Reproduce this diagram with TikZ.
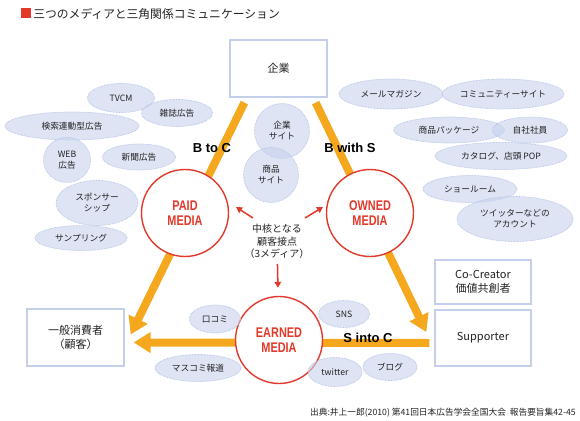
\documentclass[tikz,border=0pt]{standalone}
\usepackage{fontspec}
\setmainfont{Noto Sans CJK JP}
\newfontfamily\latinb{Liberation Sans Bold}
\newfontfamily\medfont[FakeStretch=0.78]{Liberation Sans Bold}
\usepackage{xcolor}
\usepackage{tikz}
\usetikzlibrary{arrows.meta}
\usetikzlibrary{calc}
\usetikzlibrary{positioning}
\usetikzlibrary{shapes.geometric}
\definecolor{feedorange}{RGB}{245,168,30}
\definecolor{mediared}{RGB}{226,57,42}
\definecolor{bubblefill}{RGB}{200,211,237}
\definecolor{bubbleline}{RGB}{180,195,230}
\definecolor{boxline}{RGB}{196,207,235}
\definecolor{inktext}{RGB}{35,35,35}

\begin{document}
\begin{tikzpicture}[x=1pt,y=-1pt,>=Triangle,semithick]
	\tikzstyle{every node}=[inner sep=0pt, text=inktext]
	\tikzstyle{bubble}=[ellipse, fill=bubblefill, fill opacity=0.6, text opacity=1, draw=bubbleline, line width=0.7pt, dash pattern=on 0.7pt off 0.8pt, font=\fontsize{8.7}{11}\selectfont, align=center]
	\tikzstyle{party}=[rectangle, draw=boxline, line width=1.3pt, fill=white, font=\fontsize{11}{14}\selectfont, align=center]
	\tikzstyle{media}=[circle, draw=mediared, line width=1.4pt, fill=white, minimum size=87pt, text=mediared, font=\medfont\fontsize{14}{15}\selectfont, align=center]
	\tikzstyle{feed}=[draw=feedorange, line width=8pt, -{Triangle[length=17pt,width=20pt]}]
	\tikzstyle{pointer}=[draw=mediared, line width=1.5pt, -{Triangle[length=6pt,width=6.5pt]}]
	\tikzstyle{flow}=[font=\latinb\fontsize{13}{13}\selectfont, text=black]

	\path[use as bounding box, fill=white] (0,0) rectangle (580,420);

	% title
	\node[fill=mediared, minimum size=10pt] (Mark) at (26,13.5) {};
	\node[anchor=west, font=\fontsize{11.8}{12}\selectfont] (Title) at (33,13.5) {三つのメディアと三角関係コミュニケーション};

	% parties
	\node[party, minimum width=97pt, minimum height=57pt] (Firm) at (278.5,68.5) {企業};
	\node[party, minimum width=97pt, minimum height=57pt] (Cons) at (75.5,337.5) {一般消費者\\（顧客）};
	\node[party, minimum width=96pt, minimum height=44pt] (CoC) at (483,282) {Co-Creator\\価値共創者};
	\node[party, minimum width=96pt, minimum height=56pt] (Sup) at (483,338) {Supporter};

	% the three flows
	\draw[feed] ($(Firm.south west)+(15,5)$) -- ($(Cons.east)+(6,-3)$);
	\draw[feed] ($(Firm.south east)+(-12,5)$) -- ($(Sup.west)+(-8,-6)$);
	\draw[feed] ($(Sup.west)+(-5,5)$) -- ($(Cons.east)+(9,5)$);

	% media
	\node[media] (Paid) at (185,213) {PAID\\MEDIA};
	\node[media] (Owned) at (370,213) {OWNED\\MEDIA};
	\node[media] (Earned) at (279,340) {EARNED\\MEDIA};

	% paid media
	\node[bubble, minimum width=67pt, minimum height=29pt] (Tvcm) at (121,98) {TVCM};
	\node[bubble, minimum width=71pt, minimum height=27pt] (Zasshi) at (177,113) {雑誌広告};
	\node[bubble, minimum width=134pt, minimum height=28pt] (Kensaku) at (72,126) {検索連動型広告};
	\node[bubble, minimum width=47pt, minimum height=45pt] (Web) at (67,160) {WEB\\広告};
	\node[bubble, minimum width=73pt, minimum height=26pt] (Shinbun) at (139,157) {新聞広告};
	\node[bubble, minimum width=82pt, minimum height=45pt] (Sponsor) at (97,203) {スポンサー\\シップ};
	\node[bubble, minimum width=92pt, minimum height=25pt] (Sample) at (81,238) {サンプリング};

	% owned media
	\node[bubble, minimum width=55pt, minimum height=55pt] (FirmSite) at (282,131) {企業\\サイト};
	\node[bubble, minimum width=55pt, minimum height=55pt] (ItemSite) at (271,175) {商品\\サイト};
	\node[bubble, minimum width=104pt, minimum height=30pt] (Mail) at (391,94) {メールマガジン};
	\node[bubble, minimum width=118pt, minimum height=30pt] (Comm) at (503,94) {コミュニティーサイト};
	\node[bubble, minimum width=111pt, minimum height=26pt] (Pack) at (449,130) {商品パッケージ};
	\node[bubble, minimum width=75pt, minimum height=26pt] (Staff) at (530,130) {自社社員};
	\node[bubble, minimum width=132pt, minimum height=27pt] (Pop) at (501,156) {カタログ、店頭 POP};
	\node[bubble, minimum width=94pt, minimum height=27pt] (Show) at (470,189) {ショールーム};
	\node[bubble, minimum width=116pt, minimum height=45pt] (Acct) at (515,219) {ツイッターなどの\\アカウント};

	% earned media
	\node[bubble, minimum width=51pt, minimum height=28pt] (Kuchi) at (215,319) {口コミ};
	\node[bubble, minimum width=86pt, minimum height=27pt] (Press) at (198,368) {マスコミ報道};
	\node[bubble, minimum width=51pt, minimum height=27pt] (Sns) at (344,314) {SNS};
	\node[bubble, minimum width=54pt, minimum height=29pt] (Twit) at (335,372) {twitter};
	\node[bubble, minimum width=54pt, minimum height=27pt] (Blog) at (390,367) {ブログ};

	% flow labels
	\node[flow] (BtoC) at (212,148) {B to C};
	\node[flow] (BwithS) at (350,148) {B with S};
	\node[flow] (SintoC) at (368,338) {S into C};

	% core
	\node[font=\fontsize{10}{12.5}\selectfont, align=center] (Core) at (277,241.5) {中核となる\\顧客接点\\（3メディア）};
	\draw[pointer] ($(Core.north)+(-24,-6)$) -- ($(Core.north)+(-41,-17)$);
	\draw[pointer] ($(Core.north)+(28,-6)$) -- ($(Core.north)+(46,-17)$);
	\draw[pointer, shorten <=5pt, shorten >=8pt] (Core) -- (Earned);

	% source
	\node[anchor=east, font=\fontsize{8.7}{9}\selectfont] (Src) at (576,413) {出典:井上一郎(2010) 第41回日本広告学会全国大会\ \ 報告要旨集42-45};
\end{tikzpicture}
\end{document}
